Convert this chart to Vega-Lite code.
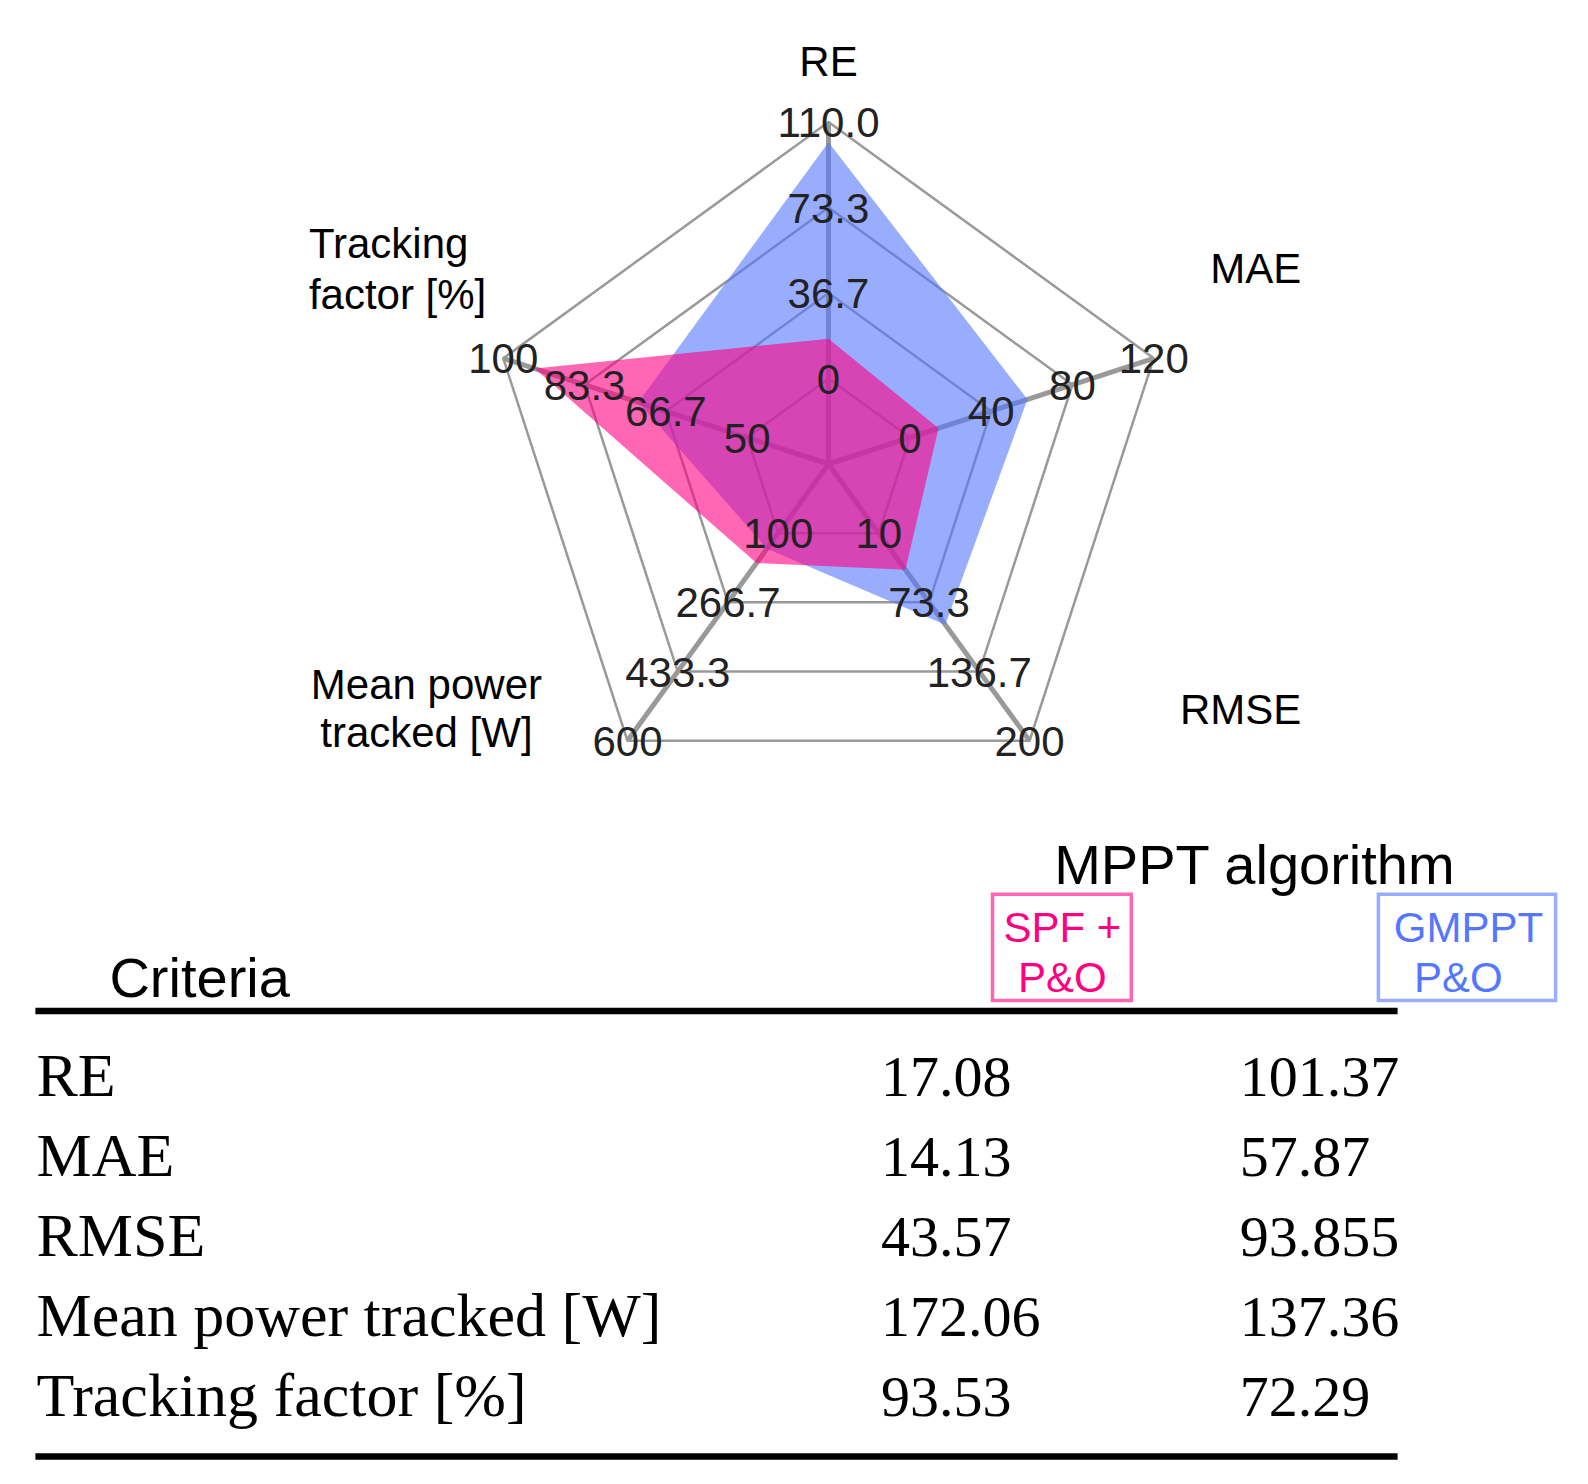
{
  "$schema": "https://vega.github.io/schema/vega-lite/v6.json",
  "width": 1588,
  "height": 1484,
  "autosize": {"type": "fit", "contains": "padding"},
  "padding": 0,
  "background": "white",
  "config": {"view": {"stroke": null}, "axis": {"disable": true}},
  "datasets": {
    "axes": [
      {"criterion": "RE", "order": 0, "min": 0, "max": 110},
      {"criterion": "MAE", "order": 1, "min": 0, "max": 120},
      {"criterion": "RMSE", "order": 2, "min": 10, "max": 200},
      {"criterion": "Mean power tracked [W]", "order": 3, "min": 100, "max": 600},
      {"criterion": "Tracking factor [%]", "order": 4, "min": 50, "max": 100}
    ],
    "results": [
      {"criterion": "RE", "algorithm": "SPF + P&O", "value": 17.08},
      {"criterion": "MAE", "algorithm": "SPF + P&O", "value": 14.13},
      {"criterion": "RMSE", "algorithm": "SPF + P&O", "value": 43.57},
      {"criterion": "Mean power tracked [W]", "algorithm": "SPF + P&O", "value": 172.06},
      {"criterion": "Tracking factor [%]", "algorithm": "SPF + P&O", "value": 93.53},
      {"criterion": "RE", "algorithm": "GMPPT P&O", "value": 101.37},
      {"criterion": "MAE", "algorithm": "GMPPT P&O", "value": 57.87},
      {"criterion": "RMSE", "algorithm": "GMPPT P&O", "value": 93.855},
      {"criterion": "Mean power tracked [W]", "algorithm": "GMPPT P&O", "value": 137.36},
      {"criterion": "Tracking factor [%]", "algorithm": "GMPPT P&O", "value": 72.29}
    ],
    "ticks": [
      {"criterion": "RE", "ring": 1, "label": "0", "value": 0},
      {"criterion": "RE", "ring": 2, "label": "36.7", "value": 36.67},
      {"criterion": "RE", "ring": 3, "label": "73.3", "value": 73.33},
      {"criterion": "RE", "ring": 4, "label": "110.0", "value": 110},
      {"criterion": "MAE", "ring": 1, "label": "0", "value": 0},
      {"criterion": "MAE", "ring": 2, "label": "40", "value": 40},
      {"criterion": "MAE", "ring": 3, "label": "80", "value": 80},
      {"criterion": "MAE", "ring": 4, "label": "120", "value": 120},
      {"criterion": "RMSE", "ring": 1, "label": "10", "value": 10},
      {"criterion": "RMSE", "ring": 2, "label": "73.3", "value": 73.33},
      {"criterion": "RMSE", "ring": 3, "label": "136.7", "value": 136.67},
      {"criterion": "RMSE", "ring": 4, "label": "200", "value": 200},
      {"criterion": "Mean power tracked [W]", "ring": 1, "label": "100", "value": 100},
      {"criterion": "Mean power tracked [W]", "ring": 2, "label": "266.7", "value": 266.67},
      {"criterion": "Mean power tracked [W]", "ring": 3, "label": "433.3", "value": 433.33},
      {"criterion": "Mean power tracked [W]", "ring": 4, "label": "600", "value": 600},
      {"criterion": "Tracking factor [%]", "ring": 1, "label": "50", "value": 50},
      {"criterion": "Tracking factor [%]", "ring": 2, "label": "66.7", "value": 66.67},
      {"criterion": "Tracking factor [%]", "ring": 3, "label": "83.3", "value": 83.33},
      {"criterion": "Tracking factor [%]", "ring": 4, "label": "100", "value": 100}
    ]
  },
  "layer": [
    {
      "layer": [
        {
          "data": {"name": "ticks"},
          "transform": [
            {"lookup": "criterion", "from": {"data": {"name": "axes"}, "key": "criterion", "fields": ["order", "min", "max"]}},
            {"calculate": "0.25 + 0.75*(datum.value - datum.min)/(datum.max - datum.min)", "as": "r"},
            {"calculate": "PI/2 - datum.order*2*PI/5", "as": "a"},
            {"calculate": "datum.r*cos(datum.a)", "as": "px"},
            {"calculate": "datum.r*sin(datum.a)", "as": "py"}
          ],
          "mark": {"type": "line", "interpolate": "linear-closed", "color": "#999999", "strokeWidth": 2.5},
          "encoding": {
            "x": {"field": "px", "type": "quantitative", "scale": {"domain": [-2.42251, 2.22076], "nice": false, "zero": false}},
            "y": {"field": "py", "type": "quantitative", "scale": {"domain": [-2.98246, 1.35673], "nice": false, "zero": false}},
            "detail": {"field": "ring", "type": "nominal"},
            "order": {"field": "order", "type": "quantitative"}
          }
        },
        {
          "data": {"name": "axes"},
          "transform": [
            {"calculate": "PI/2 - datum.order*2*PI/5", "as": "a"},
            {"calculate": "cos(datum.a)", "as": "ox"},
            {"calculate": "sin(datum.a)", "as": "oy"}
          ],
          "mark": {"type": "rule", "color": "#999999", "strokeWidth": 5},
          "encoding": {
            "x": {"field": "ox", "type": "quantitative", "scale": {"domain": [-2.42251, 2.22076], "nice": false, "zero": false}},
            "y": {"field": "oy", "type": "quantitative", "scale": {"domain": [-2.98246, 1.35673], "nice": false, "zero": false}},
            "x2": {"datum": 0},
            "y2": {"datum": 0}
          }
        },
        {
          "data": {"name": "results"},
          "transform": [
            {"filter": "datum.algorithm === 'GMPPT P&O'"},
            {"lookup": "criterion", "from": {"data": {"name": "axes"}, "key": "criterion", "fields": ["order", "min", "max"]}},
            {"calculate": "0.25 + 0.75*(datum.value - datum.min)/(datum.max - datum.min)", "as": "r"},
            {"calculate": "PI/2 - datum.order*2*PI/5", "as": "a"},
            {"calculate": "datum.r*cos(datum.a)", "as": "px"},
            {"calculate": "datum.r*sin(datum.a)", "as": "py"}
          ],
          "mark": {"type": "line", "interpolate": "linear-closed", "fill": "#5577ff", "fillOpacity": 0.6, "stroke": "#5577ff", "strokeOpacity": 0, "strokeWidth": 0},
          "encoding": {
            "x": {"field": "px", "type": "quantitative", "scale": {"domain": [-2.42251, 2.22076], "nice": false, "zero": false}},
            "y": {"field": "py", "type": "quantitative", "scale": {"domain": [-2.98246, 1.35673], "nice": false, "zero": false}},
            "order": {"field": "order", "type": "quantitative"}
          }
        },
        {
          "data": {"name": "results"},
          "transform": [
            {"filter": "datum.algorithm === 'SPF + P&O'"},
            {"lookup": "criterion", "from": {"data": {"name": "axes"}, "key": "criterion", "fields": ["order", "min", "max"]}},
            {"calculate": "0.25 + 0.75*(datum.value - datum.min)/(datum.max - datum.min)", "as": "r"},
            {"calculate": "PI/2 - datum.order*2*PI/5", "as": "a"},
            {"calculate": "datum.r*cos(datum.a)", "as": "px"},
            {"calculate": "datum.r*sin(datum.a)", "as": "py"}
          ],
          "mark": {"type": "line", "interpolate": "linear-closed", "fill": "#ff0080", "fillOpacity": 0.6, "stroke": "#ff0080", "strokeOpacity": 0, "strokeWidth": 0},
          "encoding": {
            "x": {"field": "px", "type": "quantitative", "scale": {"domain": [-2.42251, 2.22076], "nice": false, "zero": false}},
            "y": {"field": "py", "type": "quantitative", "scale": {"domain": [-2.98246, 1.35673], "nice": false, "zero": false}},
            "order": {"field": "order", "type": "quantitative"}
          }
        },
        {
          "data": {"name": "ticks"},
          "transform": [
            {"lookup": "criterion", "from": {"data": {"name": "axes"}, "key": "criterion", "fields": ["order", "min", "max"]}},
            {"calculate": "0.25 + 0.75*(datum.value - datum.min)/(datum.max - datum.min)", "as": "r"},
            {"calculate": "PI/2 - datum.order*2*PI/5", "as": "a"},
            {"calculate": "datum.r*cos(datum.a)", "as": "px"},
            {"calculate": "datum.r*sin(datum.a)", "as": "py"}
          ],
          "mark": {"type": "text", "font": "Liberation Sans", "fontSize": 42, "color": "#222222", "align": "center", "baseline": "middle", "dy": 2},
          "encoding": {
            "x": {"field": "px", "type": "quantitative", "scale": {"domain": [-2.42251, 2.22076], "nice": false, "zero": false}},
            "y": {"field": "py", "type": "quantitative", "scale": {"domain": [-2.98246, 1.35673], "nice": false, "zero": false}},
            "text": {"field": "label", "type": "nominal"}
          }
        },
        {
          "data": {"values": [{}]},
          "mark": {"type": "text", "font": "Liberation Sans", "fontSize": 42, "color": "#000000", "align": "center", "baseline": "alphabetic"},
          "encoding": {
            "x": {"datum": 0, "scale": {"domain": [-2.42251, 2.22076], "nice": false, "zero": false}},
            "y": {"datum": 1.1351, "scale": {"domain": [-2.98246, 1.35673], "nice": false, "zero": false}},
            "text": {"value": "RE"}
          }
        },
        {
          "data": {"values": [{}]},
          "mark": {"type": "text", "font": "Liberation Sans", "fontSize": 42, "color": "#000000", "align": "right", "baseline": "alphabetic"},
          "encoding": {
            "x": {"datum": 1.3827},
            "y": {"datum": 0.5281},
            "text": {"value": "MAE"}
          }
        },
        {
          "data": {"values": [{}]},
          "mark": {"type": "text", "font": "Liberation Sans", "fontSize": 42, "color": "#000000", "align": "right", "baseline": "alphabetic"},
          "encoding": {
            "x": {"datum": 1.3827},
            "y": {"datum": -0.7602},
            "text": {"value": "RMSE"}
          }
        },
        {
          "data": {"values": [{}]},
          "mark": {"type": "text", "font": "Liberation Sans", "fontSize": 42, "color": "#000000", "align": "center", "baseline": "alphabetic", "lineHeight": 48.6},
          "encoding": {
            "x": {"datum": -1.1757},
            "y": {"datum": -0.686},
            "text": {"value": ["Mean power", "tracked [W]"]}
          }
        },
        {
          "data": {"values": [{}]},
          "mark": {"type": "text", "font": "Liberation Sans", "fontSize": 42, "color": "#000000", "align": "left", "baseline": "alphabetic", "lineHeight": 50.6},
          "encoding": {
            "x": {"datum": -1.5193},
            "y": {"datum": 0.6023},
            "text": {"value": ["Tracking", "factor [%]"]}
          }
        }
      ]
    },
    {
      "layer": [
        {
          "data": {"values": [{}]},
          "mark": {"type": "rule", "color": "#000000", "strokeWidth": 6.5},
          "encoding": {
            "x": {"datum": 35.4, "scale": {"domain": [0, 1588], "nice": false, "zero": false}},
            "x2": {"datum": 1397.6},
            "y": {"datum": -1.06, "scale": {"domain": [-13.6975, 4.8525], "reverse": true, "nice": false, "zero": false}}
          }
        },
        {
          "data": {"values": [{}]},
          "mark": {"type": "rule", "color": "#000000", "strokeWidth": 6.5},
          "encoding": {
            "x": {"datum": 35.4},
            "x2": {"datum": 1397.6},
            "y": {"datum": 4.5075}
          }
        },
        {
          "data": {"values": [{}]},
          "mark": {"type": "rect", "fill": "white", "fillOpacity": 0, "stroke": "#ff66b3", "strokeWidth": 3.5},
          "encoding": {
            "x": {"datum": 992.5},
            "x2": {"datum": 1131.3},
            "y": {"datum": -2.51875},
            "y2": {"datum": -1.19}
          }
        },
        {
          "data": {"values": [{}]},
          "mark": {"type": "rect", "fill": "white", "fillOpacity": 0, "stroke": "#99adff", "strokeWidth": 3.5},
          "encoding": {
            "x": {"datum": 1378.4},
            "x2": {"datum": 1555.6},
            "y": {"datum": -2.51875},
            "y2": {"datum": -1.19}
          }
        },
        {
          "data": {"values": [{}]},
          "mark": {"type": "text", "font": "Liberation Sans", "fontSize": 42, "color": "#ff0080", "align": "center", "baseline": "alphabetic"},
          "encoding": {"x": {"datum": 1062.4}, "y": {"datum": -1.926}, "text": {"value": "SPF +"}}
        },
        {
          "data": {"values": [{}]},
          "mark": {"type": "text", "font": "Liberation Sans", "fontSize": 42, "color": "#ff0080", "align": "center", "baseline": "alphabetic"},
          "encoding": {"x": {"datum": 1062.4}, "y": {"datum": -1.2925}, "text": {"value": "P&O"}}
        },
        {
          "data": {"values": [{}]},
          "mark": {"type": "text", "font": "Liberation Sans", "fontSize": 42, "color": "#5577ff", "align": "center", "baseline": "alphabetic"},
          "encoding": {"x": {"datum": 1468.5}, "y": {"datum": -1.926}, "text": {"value": "GMPPT"}}
        },
        {
          "data": {"values": [{}]},
          "mark": {"type": "text", "font": "Liberation Sans", "fontSize": 42, "color": "#5577ff", "align": "center", "baseline": "alphabetic"},
          "encoding": {"x": {"datum": 1458.4}, "y": {"datum": -1.2925}, "text": {"value": "P&O"}}
        },
        {
          "data": {"values": [{}]},
          "mark": {"type": "text", "font": "Liberation Sans", "fontSize": 56, "color": "#000000", "align": "center", "baseline": "alphabetic"},
          "encoding": {"x": {"datum": 1254.4}, "y": {"datum": -2.6475}, "text": {"value": "MPPT algorithm"}}
        },
        {
          "data": {"values": [{}]},
          "mark": {"type": "text", "font": "Liberation Sans", "fontSize": 56, "color": "#000000", "align": "left", "baseline": "alphabetic"},
          "encoding": {"x": {"datum": 109.4}, "y": {"datum": -1.235}, "text": {"value": "Criteria"}}
        },
        {
          "data": {"name": "axes"},
          "mark": {"type": "text", "font": "Liberation Serif", "fontSize": 62, "color": "#000000", "align": "left", "baseline": "alphabetic"},
          "encoding": {
            "x": {"datum": 36.5},
            "y": {"field": "order", "type": "quantitative"},
            "text": {"field": "criterion", "type": "nominal"}
          }
        },
        {
          "data": {"name": "results"},
          "transform": [
            {"filter": "datum.algorithm === 'SPF + P&O'"},
            {"lookup": "criterion", "from": {"data": {"name": "axes"}, "key": "criterion", "fields": ["order"]}}
          ],
          "mark": {"type": "text", "font": "Liberation Serif", "fontSize": 58, "color": "#000000", "align": "left", "baseline": "alphabetic"},
          "encoding": {
            "x": {"datum": 881},
            "y": {"field": "order", "type": "quantitative"},
            "text": {"field": "value", "type": "nominal"}
          }
        },
        {
          "data": {"name": "results"},
          "transform": [
            {"filter": "datum.algorithm === 'GMPPT P&O'"},
            {"lookup": "criterion", "from": {"data": {"name": "axes"}, "key": "criterion", "fields": ["order"]}}
          ],
          "mark": {"type": "text", "font": "Liberation Serif", "fontSize": 58, "color": "#000000", "align": "left", "baseline": "alphabetic"},
          "encoding": {
            "x": {"datum": 1239.7},
            "y": {"field": "order", "type": "quantitative"},
            "text": {"field": "value", "type": "nominal"}
          }
        }
      ]
    }
  ],
  "resolve": {"scale": {"x": "independent", "y": "independent"}}
}
